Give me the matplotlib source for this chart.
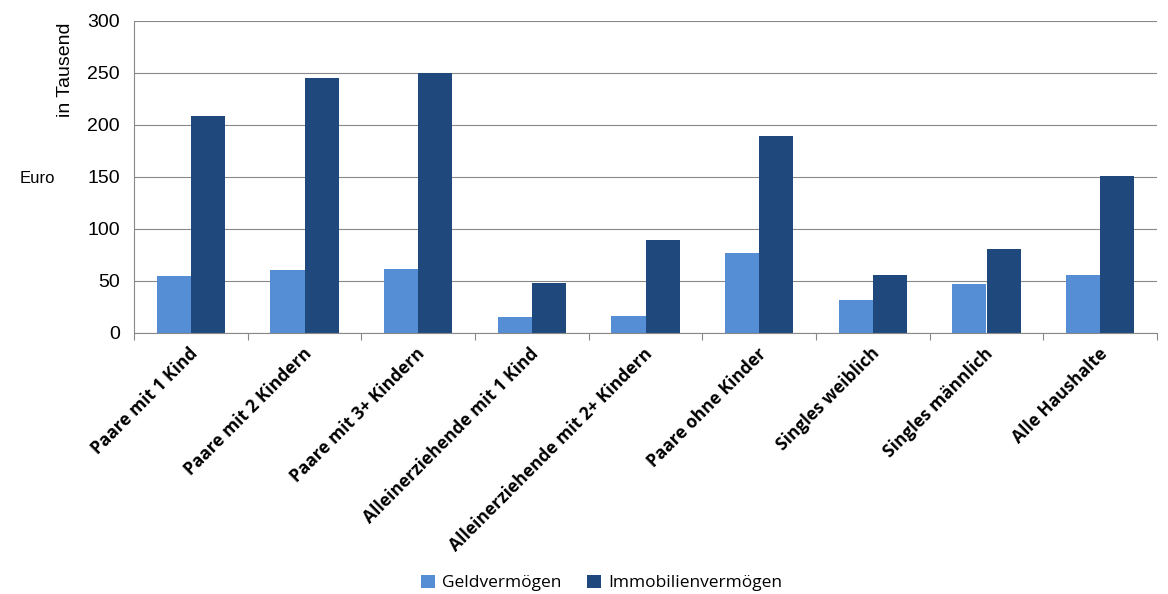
import matplotlib.pyplot as plt
import numpy as np

categories = ["Paare mit 1 Kind", "Paare mit 2 Kindern", "Paare mit 3+ Kindern",
              "Alleinerziehende mit 1 Kind", "Alleinerziehende mit 2+ Kindern",
              "Paare ohne Kinder", "Singles weiblich", "Singles männlich", "Alle Haushalte"]
geld = [55, 61, 62, 15, 16, 77, 32, 47, 56]
immo = [209, 245, 250, 48, 89, 189, 56, 81, 151]

plt.rcParams['font.family'] = ['Liberation Sans', 'DejaVu Sans']
fig = plt.figure(figsize=(11.68, 5.94), dpi=100)
ax = fig.add_axes([134 / 1168, 1 - 333 / 594, (1157 - 134) / 1168, (333 - 21) / 594])

x = np.arange(len(categories))
w = 0.3
ax.bar(x - w / 2, geld, w, color='#558ED5', label='Geldvermögen', zorder=2)
ax.bar(x + w / 2, immo, w, color='#1F497D', label='Immobilienvermögen', zorder=2)

ax.set_xlim(-0.5, len(categories) - 0.5)
ax.set_ylim(0, 300)
ax.set_yticks(range(0, 301, 50))
ax.yaxis.grid(True, color='#888888', linewidth=0.8, zorder=0)
ax.set_xticks(np.arange(-0.5, len(categories), 1), minor=False)
ax.set_xticklabels([])
ax.tick_params(axis='x', length=5, color='#888888')
ax.tick_params(axis='y', length=0, labelsize=14, pad=10)
for i, c in enumerate(categories):
    ax.text(i - 0.02, -11, c, rotation=45, ha='right', va='top', fontsize=12.5,
            fontweight='bold', family=['Open Sans', 'DejaVu Sans'], rotation_mode='anchor')
for s in ['top', 'right']:
    ax.spines[s].set_visible(False)
ax.spines['left'].set_color('#888888')
ax.spines['bottom'].set_color('#888888')

fig.text(65 / 1168, 1 - 70 / 594, 'in Tausend', rotation=90, ha='center', va='center', fontsize=14)
fig.text(37 / 1168, 1 - 178 / 594, 'Euro', ha='center', va='center', fontsize=12)

fig.legend(loc='center', bbox_to_anchor=(0.515, 1 - 583 / 594), ncol=2, frameon=False,
           prop={'family': 'Open Sans', 'size': 12.5},
           handlelength=0.8, handleheight=0.8, columnspacing=1.5, handletextpad=0.4)

fig.savefig('out.png', dpi=100)
